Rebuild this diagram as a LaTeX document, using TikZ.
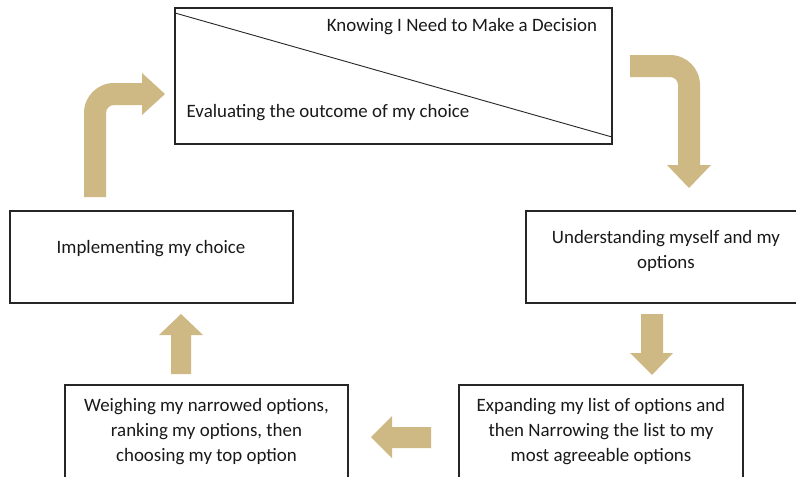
\documentclass[tikz,border=0pt]{standalone}
\usepackage{fontspec}
\setmainfont{Carlito}
\definecolor{arrowtan}{RGB}{206,185,133}
\begin{document}
\begin{tikzpicture}[x=1pt,y=-1pt,
  box/.style={draw=black!85, line width=1.2pt, inner sep=0pt},
  lbl/.style={font=\fontsize{18.9}{25}\selectfont, align=center, inner sep=0pt, text=black!90},
  blockarrow/.style={fill=arrowtan, draw=none}]
\useasboundingbox (0,0) rectangle (796,477);
\clip (0,0) rectangle (796,477);
\fill[white] (0,0) rectangle (796,477);

% boxes
\node[box, minimum width=437pt, minimum height=136pt] (top) at (393.5,76) {};
\node[box, minimum width=283pt, minimum height=92pt] (impl) at (151.5,257) {};
\node[box, minimum width=280pt, minimum height=92pt] (under) at (666,257) {};
\node[box, minimum width=283pt, minimum height=94pt] (weigh) at (206.5,432) {};
\node[box, minimum width=284pt, minimum height=94pt] (expand) at (601,432) {};

% diagonal in top box
\coordinate (d1) at (175,13);
\coordinate (d2) at (612,137);
\draw[line width=0.9pt, black!85] (d1) -- (d2);

% labels
\node[lbl] (knowing) at (462,27) {Knowing I Need to Make a Decision};
\node[lbl] (evaluating) at (328,113) {Evaluating the outcome of my choice};
\node[lbl] (implementing) at (151,249) {Implementing my choice};
\node[lbl] (understanding) at (666,251) {Understanding myself and my\\options};
\node[lbl] (weighing) at (206.5,431.5) {Weighing my narrowed options,\\ranking my options, then\\choosing my top option};
\node[lbl] (expanding) at (601,431.5) {Expanding my list of options and\\then Narrowing the list to my\\most agreeable options};

% bent arrow top-left (up then right)
\fill[blockarrow] (84,197) -- (84,113) .. controls (84,96.4) and (97.4,83) .. (114,83)
  -- (142,83) -- (142,73) -- (165,94) -- (142,115) -- (142,105) -- (114,105)
  .. controls (109.6,105) and (106,108.6) .. (106,113) -- (106,197) -- cycle;

% bent arrow top-right (right then down)
\fill[blockarrow] (630,55) -- (670,55) .. controls (686.6,55) and (700,68.4) .. (700,85)
  -- (700,165) -- (711,165) -- (689,188) -- (667,165) -- (678,165) -- (678,85)
  .. controls (678,80.6) and (674.4,77) .. (670,77) -- (630,77) -- cycle;

% down arrow (right)
\fill[blockarrow] (641,314) -- (663,314) -- (663,353) -- (673,353) -- (652,375)
  -- (630,353) -- (641,353) -- cycle;

% left arrow (bottom)
\fill[blockarrow] (431,427) -- (431,448) -- (392,448) -- (392,458) -- (371,437)
  -- (392,416) -- (392,427) -- cycle;

% up arrow (left)
\fill[blockarrow] (171,374) -- (171,335) -- (159,335) -- (181,314) -- (203,335)
  -- (191,335) -- (191,374) -- cycle;
\end{tikzpicture}
\end{document}
